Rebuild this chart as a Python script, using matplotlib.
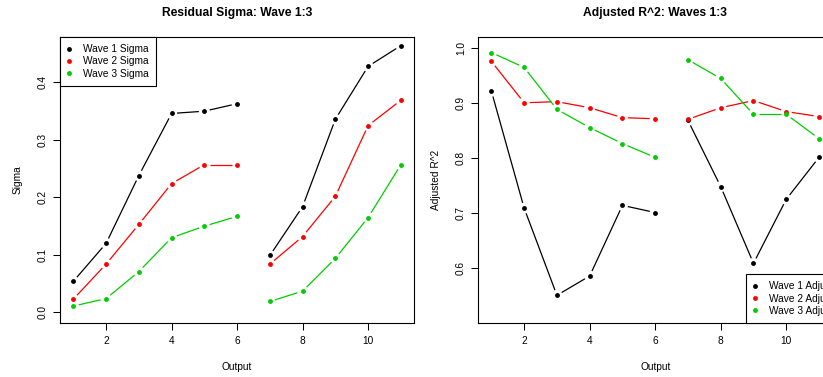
import numpy as np
import matplotlib
matplotlib.use("Agg")
import matplotlib.pyplot as plt
from matplotlib.ticker import FormatStrFormatter

plt.rcParams["font.family"] = ["Liberation Sans", "DejaVu Sans"]

# ---- data -------------------------------------------------------------
outputs = [1, 2, 3, 4, 5, 6, 7, 8, 9, 10, 11]
# outputs 1-6 and 7-11 belong to two separate model groups (no line across)
group_break_after = [6]

sigma_wave1 = [0.054, 0.120, 0.238, 0.346, 0.350, 0.363, 0.099, 0.184, 0.336, 0.428, 0.464]
sigma_wave2 = [0.023, 0.084, 0.153, 0.224, 0.257, 0.257, 0.084, 0.132, 0.202, 0.325, 0.369]
sigma_wave3 = [0.011, 0.024, 0.071, 0.130, 0.150, 0.167, 0.019, 0.037, 0.094, 0.165, 0.257]

r2_wave1 = [0.921, 0.709, 0.551, 0.586, 0.714, 0.701, 0.868, 0.748, 0.609, 0.725, 0.801]
r2_wave2 = [0.975, 0.900, 0.902, 0.891, 0.873, 0.871, 0.870, 0.891, 0.904, 0.884, 0.875]
r2_wave3 = [0.991, 0.964, 0.888, 0.855, 0.826, 0.801, 0.978, 0.944, 0.879, 0.879, 0.835]

sigma_labels = ["Wave 1 Sigma", "Wave 2 Sigma", "Wave 3 Sigma"]
r2_labels = ["Wave 1 Adjusted R^2", "Wave 2 Adjusted R^2", "Wave 3 Adjusted R^2"]
wave_colors = ["#000000", "#FF0000", "#00CD00"]

x_ticks = [2, 4, 6, 8, 10]
sigma_ticks = [0.0, 0.1, 0.2, 0.3, 0.4]
r2_ticks = [0.6, 0.7, 0.8, 0.9, 1.0]

# ---- layout -----------------------------------------------------------
W, H = 823, 377
DPI = 100
FS = 7.3
GAP = 5.5          # pixels left open around each point (R type = "b")

fig = plt.figure(figsize=(W / DPI, H / DPI), dpi=DPI)
fig.patch.set_facecolor("white")


def px_rect(x0, y0, x1, y1):
    return [x0 / W, 1 - y1 / H, (x1 - x0) / W, (y1 - y0) / H]


ax1 = fig.add_axes(px_rect(60.2, 37, 414.0, 323))
ax2 = fig.add_axes(px_rect(478.3, 37, 832.1, 323))


def expand(lo, hi, frac=0.04):
    d = (hi - lo) * frac
    return lo - d, hi + d


def style_axes(ax, ylim, yticks, title, ylabel):
    ax.set_xlim(*expand(1, 11))
    ax.set_ylim(*expand(*ylim))
    ax.set_xticks(x_ticks)
    ax.set_yticks(yticks)
    ax.yaxis.set_major_formatter(FormatStrFormatter("%.1f"))
    for s in ax.spines.values():
        s.set_linewidth(0.8)
        s.set_color("black")
    ax.tick_params(direction="out", length=5, width=0.75, labelsize=FS,
                   colors="black")
    ax.tick_params(axis="x", pad=4.0)
    ax.tick_params(axis="y", pad=4.0, labelrotation=90)
    for lab in ax.get_yticklabels():
        lab.set_va("center")
    ax.set_title(title, fontsize=8.7, fontweight="bold", y=1.084, pad=0,
                 va="center")
    ax.set_xlabel("Output", fontsize=FS)
    ax.xaxis.set_label_coords(0.5, -0.1528)
    ax.xaxis.label.set_va("center")
    ax.set_ylabel(ylabel, fontsize=FS)
    ax.yaxis.set_label_coords(-0.1205, 0.5)
    ax.yaxis.label.set_va("center")


def draw_series(ax, x, y, color, label):
    x = np.asarray(x, float)
    y = np.asarray(y, float)
    T = ax.transData
    inv = T.inverted()
    pts = T.transform(np.column_stack([x, y]))
    for i in range(len(x) - 1):
        if x[i] in group_break_after:
            continue
        p, q = pts[i], pts[i + 1]
        d = q - p
        L = np.hypot(*d)
        if L <= 2 * GAP:
            continue
        u = d / L
        seg = inv.transform(np.array([p + u * GAP, q - u * GAP]))
        ax.plot(seg[:, 0], seg[:, 1], color=color, lw=0.9,
                solid_capstyle="butt")
    return ax.plot(x, y, linestyle="none", marker="o", ms=3.5, mfc=color,
                   mec=color, mew=0, label=label)[0]


def add_legend(ax, handles, **kw):
    leg = ax.legend(handles=handles, borderaxespad=0, borderpad=0.7,
                    handlelength=0.43, handletextpad=1.16,
                    labelspacing=0.22, fontsize=FS, frameon=True,
                    fancybox=False, edgecolor="black", framealpha=1,
                    numpoints=1, **kw)
    leg.get_frame().set_linewidth(0.8)
    return leg


# ---- left panel: residual sigma --------------------------------------
style_axes(ax1, (0.0, 0.4606), sigma_ticks, "Residual Sigma: Wave 1:3", "Sigma")
h1 = [draw_series(ax1, outputs, v, c, l)
      for v, c, l in zip([sigma_wave1, sigma_wave2, sigma_wave3],
                         wave_colors, sigma_labels)]
add_legend(ax1, h1, loc="upper left", bbox_to_anchor=(0, 1))

# ---- right panel: adjusted R^2 ---------------------------------------
style_axes(ax2, (0.52, 1.0), r2_ticks, "Adjusted R^2: Waves 1:3", "Adjusted R^2")
h2 = [draw_series(ax2, outputs, v, c, l)
      for v, c, l in zip([r2_wave1, r2_wave2, r2_wave3],
                         wave_colors, r2_labels)]
add_legend(ax2, h2, loc="lower left", bbox_to_anchor=(0.756, 0))

fig.savefig("out.png", dpi=DPI)
